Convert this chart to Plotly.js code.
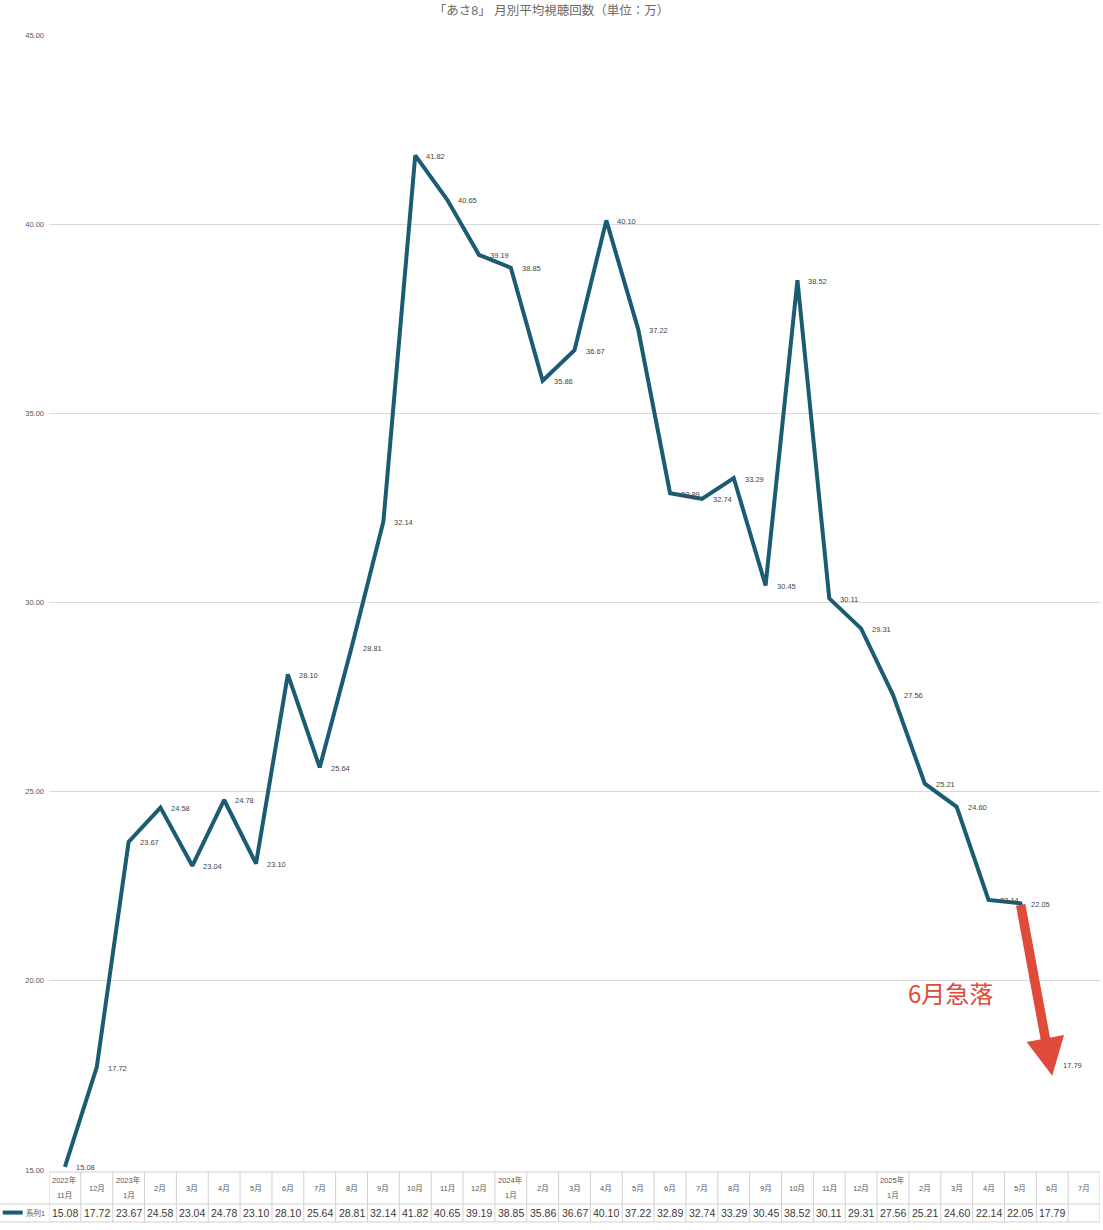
<!DOCTYPE html>
<html><head><meta charset="utf-8">
<script src="https://cdn.plot.ly/plotly-3.0.1.min.js"></script>
<style>html,body{margin:0;padding:0;background:#fff;}#chart{width:1103px;height:1230px;}</style>
</head><body><div id="chart"></div>
<script>
const tickLabels = ["2022年<br>11月","12月","2023年<br>1月","2月","3月","4月","5月","6月","7月","8月","9月","10月","11月","12月","2024年<br>1月","2月","3月","4月","5月","6月","7月","8月","9月","10月","11月","12月","2025年<br>1月","2月","3月","4月","5月","6月","7月"];
const values = [15.08,17.72,23.67,24.58,23.04,24.78,23.10,28.10,25.64,28.81,32.14,41.82,40.65,39.19,38.85,35.86,36.67,40.10,37.22,32.89,32.74,33.29,30.45,38.52,30.11,29.31,27.56,25.21,24.60,22.14,22.05,17.79,null];
const seriesName = "系列1";
const titleText = "「あさ8」 月別平均視聴回数（単位：万）";
const calloutText = "6月急落";

const FONT = "Liberation Sans, Noto Sans CJK JP, sans-serif";
const n = tickLabels.length;
const idx = tickLabels.map((_, i) => i);
const lastIdx = values.length - 2; // 17.79
const fmt = v => v == null ? "" : v.toFixed(2);

const trace = {
  x: idx, y: values, type: "scatter", mode: "lines",
  line: {color: "#1b5b74", width: 4},
  hoverinfo: "skip", showlegend: false
};

const shapes = [];
const annotations = [];
// data labels
values.forEach((v, i) => {
  if (v == null) return;
  annotations.push({x: i, y: v, xref: "x", yref: "y", text: fmt(v), showarrow: false,
    xanchor: "left", yanchor: "middle", xshift: 9, yshift: -1,
    font: {family: FONT, size: 7.5, color: "#444"}});
});
// table vertical lines
for (let i = 0; i <= n; i++) {
  shapes.push({type: "line", xref: "x", yref: "paper", x0: i - 0.5, x1: i - 0.5, y0: -0.0018, y1: -0.0458, line: {color: "#d0d0d0", width: 1}});
}
// table horizontal lines
shapes.push({type: "line", xref: "paper", yref: "paper", x0: 0, x1: 1, y0: -0.0018, y1: -0.0018, line: {color: "#d0d0d0", width: 1}});
shapes.push({type: "line", xref: "paper", yref: "paper", x0: -0.047, x1: 1, y0: -0.030, y1: -0.030, line: {color: "#d0d0d0", width: 1}});
shapes.push({type: "line", xref: "paper", yref: "paper", x0: -0.047, x1: 1, y0: -0.0458, y1: -0.0458, line: {color: "#d0d0d0", width: 1}});
// legend key
shapes.push({type: "line", xref: "paper", yref: "paper", x0: -0.044, x1: -0.025, y0: -0.0375, y1: -0.0375, line: {color: "#1b5b74", width: 4}});

// header labels and values
tickLabels.forEach((t, i) => {
  const parts = t.split("<br>");
  if (parts.length === 2) {
    annotations.push({x: i, xref: "x", yref: "paper", y: -0.0088, text: parts[0], showarrow: false,
      font: {family: FONT, size: 7.5, color: "#555"}, xanchor: "center", yanchor: "middle"});
    annotations.push({x: i, xref: "x", yref: "paper", y: -0.0229, text: parts[1], showarrow: false,
      font: {family: FONT, size: 7.5, color: "#555"}, xanchor: "center", yanchor: "middle"});
  } else {
    annotations.push({x: i, xref: "x", yref: "paper", y: -0.0159, text: t, showarrow: false,
      font: {family: FONT, size: 7.5, color: "#555"}, xanchor: "center", yanchor: "middle"});
  }
  annotations.push({x: i, xref: "x", yref: "paper", y: -0.0379, text: fmt(values[i]), showarrow: false,
    font: {family: FONT, size: 10.5, color: "#3a3a3a"}, xanchor: "center", yanchor: "middle"});
});
annotations.push({xref: "paper", yref: "paper", x: -0.024, y: -0.0379, text: seriesName, showarrow: false,
  font: {family: FONT, size: 7.5, color: "#555"}, xanchor: "left", yanchor: "middle"});

// red arrow
annotations.push({x: lastIdx, y: values[lastIdx] - 0.3, xref: "x", yref: "y",
  ax: lastIdx - 1, ay: values[lastIdx - 1], axref: "x", ayref: "y",
  showarrow: true, text: "", arrowhead: 2, arrowsize: 0.8, arrowwidth: 9.5, arrowcolor: "#e04a3a", standoff: 0, startstandoff: 0});
annotations.push({x: 27.8, y: 19.68, xref: "x", yref: "y", text: calloutText, showarrow: false,
  font: {family: "Noto Sans CJK JP, sans-serif", size: 24, color: "#e04a3a"}, xanchor: "center", yanchor: "middle"});

const layout = {
  width: 1103, height: 1230,
  margin: {l: 49, r: 3, t: 35, b: 60},
  paper_bgcolor: "#fff", plot_bgcolor: "#fff",
  title: {text: titleText, x: 0.5, xanchor: "center", y: 0.991, yanchor: "middle", font: {family: FONT, size: 12.5, color: "#6a6a6a"}},
  xaxis: {range: [-0.5, n - 0.5], showticklabels: false, showgrid: false, zeroline: false, showline: false, ticks: ""},
  yaxis: {range: [15, 45], tickvals: [15,20,25,30,35,40,45], ticktext: ["15.00","20.00","25.00","30.00","35.00","40.00","45.00"],
    tickfont: {family: FONT, size: 7.5, color: "#555"}, gridcolor: "#d9d9d9", gridwidth: 1, zeroline: false, showline: false, ticks: "", ticklabelstandoff: 4},
  shapes: shapes, annotations: annotations, showlegend: false
};
Plotly.newPlot("chart", [trace], layout, {staticPlot: true, displayModeBar: false});
</script></body></html>
